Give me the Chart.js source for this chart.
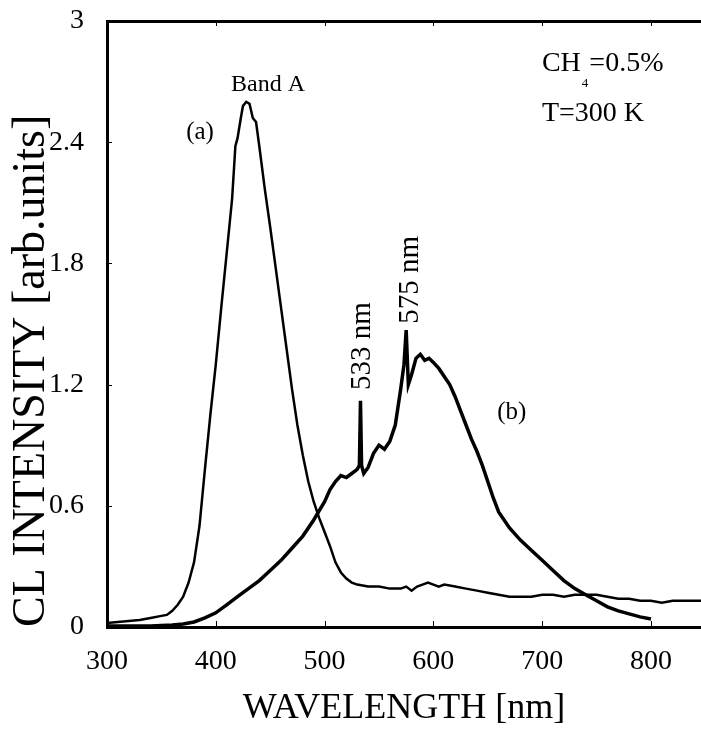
<!DOCTYPE html>
<html><head><meta charset="utf-8">
<script src="https://cdn.jsdelivr.net/npm/chart.js@4/dist/chart.umd.min.js"></script>
<style>html,body{margin:0;padding:0;background:#fff;} canvas{display:block;}</style>
</head><body>
<canvas id="c" width="701" height="734"></canvas>
<script>
// ---- data ----
const wavelengthA = [300,310,320,330,340,350,355,360,365,370,375,380,385,390,395,400,405,410,415,418,420,423,425,428,431,434,437,440,445,450,455,460,465,470,475,480,485,490,495,500,505,510,515,520,525,530,540,550,560,570,575,580,585,590,595,600,605,610,620,630,640,650,660,670,680,690,700,710,720,730,740,750,760,770,780,790,800,810,820,830,846];
const intensityA  = [0.02,0.025,0.03,0.035,0.045,0.055,0.06,0.08,0.11,0.15,0.22,0.32,0.50,0.78,1.05,1.30,1.58,1.85,2.12,2.38,2.42,2.52,2.58,2.60,2.59,2.52,2.50,2.38,2.17,1.98,1.78,1.58,1.38,1.18,1.00,0.85,0.72,0.62,0.54,0.47,0.40,0.32,0.27,0.24,0.22,0.21,0.20,0.20,0.19,0.19,0.20,0.18,0.20,0.21,0.22,0.21,0.20,0.21,0.20,0.19,0.18,0.17,0.16,0.15,0.15,0.15,0.16,0.16,0.15,0.16,0.16,0.16,0.15,0.14,0.14,0.13,0.13,0.12,0.13,0.13,0.13];
const wavelengthB = [300,320,340,360,370,380,390,400,410,420,430,440,450,460,470,480,490,500,505,510,515,520,525,530,532,533,534,536,540,545,550,555,560,565,570,573,575,577,580,584,588,592,596,600,605,610,615,620,625,630,635,640,645,650,655,660,665,670,680,690,700,710,720,730,740,750,760,770,780,790,800];
const intensityB  = [0.005,0.005,0.005,0.01,0.015,0.025,0.045,0.07,0.11,0.15,0.19,0.23,0.28,0.33,0.39,0.45,0.53,0.62,0.68,0.72,0.75,0.74,0.76,0.78,0.80,1.12,0.80,0.76,0.79,0.86,0.90,0.88,0.92,1.00,1.18,1.30,1.47,1.20,1.25,1.33,1.35,1.32,1.33,1.31,1.28,1.24,1.20,1.14,1.07,1.00,0.93,0.87,0.80,0.72,0.64,0.57,0.53,0.49,0.43,0.38,0.33,0.28,0.23,0.19,0.16,0.13,0.10,0.08,0.065,0.05,0.04];
const xTicks = [300,400,500,600,700,800];
const yTicks = [0,0.6,1.2,1.8,2.4,3];
const xRange = [300,846];
const yRange = [0,3];

// ---- text annotations (placed in data coordinates) ----
const notes = [
  {parts:[{t:'Band A'}], x:448, y:2.683, size:24, align:'center'},
  {parts:[{t:'(a)'}], x:385.5, y:2.446, size:25, align:'center'},
  {parts:[{t:'(b)'}], x:672, y:1.064, size:25, align:'center'},
  {parts:[{t:'533 nm'}], x:534.4, y:1.391, size:29, align:'center', rot:-Math.PI/2},
  {parts:[{t:'575 nm'}], x:578.5, y:1.718, size:29, align:'center', rot:-Math.PI/2},
  {parts:[{t:'CH'},{t:'4',sub:true},{t:'=0.5%'}], x:699.8, y:2.787, size:28, align:'left'},
  {parts:[{t:'T=300 K'}], x:699.8, y:2.540, size:28, align:'left'}
];

const FONT = '"Liberation Serif", "DejaVu Serif", serif';

const notePlugin = {
  id:'notes',
  afterDatasetsDraw(chart){
    const {ctx} = chart; const xs = chart.scales.x, ys = chart.scales.y;
    ctx.save(); ctx.fillStyle = '#000'; ctx.textBaseline = 'middle';
    for (const n of notes){
      const px = xs.getPixelForValue(n.x), py = ys.getPixelForValue(n.y);
      ctx.save(); ctx.translate(px,py); if (n.rot) ctx.rotate(n.rot);
      let total = 0;
      for (const p of n.parts){ ctx.font = (p.sub? Math.round(n.size*0.45): n.size)+'px '+FONT; total += ctx.measureText(p.t).width + (p.sub?2:0); }
      let cx = n.align==='center' ? -total/2 : 0;
      ctx.textAlign = 'left';
      for (const p of n.parts){
        ctx.font = (p.sub? Math.round(n.size*0.45): n.size)+'px '+FONT;
        ctx.fillText(p.t, cx + (p.sub?1:0), p.sub ? n.size*0.7 : 0);
        cx += ctx.measureText(p.t).width + (p.sub?2:0);
      }
      ctx.restore();
    }
    // small inward tick marks on the bottom and top axes
    ctx.strokeStyle = '#000'; ctx.lineWidth = 1;
    const area = chart.chartArea;
    for (const t of xs.ticks){
      const px = Math.round(xs.getPixelForValue(t.value)) + 0.5;
      ctx.beginPath(); ctx.moveTo(px, area.bottom); ctx.lineTo(px, area.bottom - 6); ctx.stroke();
      ctx.beginPath(); ctx.moveTo(px, area.top); ctx.lineTo(px, area.top + 5); ctx.stroke();
    }
    for (const t of ys.ticks){
      const py = Math.round(ys.getPixelForValue(t.value)) + 0.5;
      ctx.beginPath(); ctx.moveTo(area.left, py); ctx.lineTo(area.left + 5, py); ctx.stroke();
    }
    ctx.restore();
  }
};

const ptsA = wavelengthA.map((w,i)=>({x:w, y:intensityA[i]}));
const ptsB = wavelengthB.map((w,i)=>({x:w, y:intensityB[i]}));

new Chart(document.getElementById('c'), {
  type:'line',
  data:{datasets:[
    {label:'(a)', data:ptsA, borderColor:'#000', borderWidth:2.5, pointRadius:0, tension:0, fill:false},
    {label:'(b)', data:ptsB, borderColor:'#000', borderWidth:3.5, pointRadius:0, tension:0, fill:false}
  ]},
  options:{
    responsive:false, animation:false, devicePixelRatio:1,
    layout:{padding:0},
    plugins:{legend:{display:false}, tooltip:{enabled:false}},
    scales:{
      x:{type:'linear', position:'bottom', min:xRange[0], max:xRange[1],
        afterBuildTicks:s=>{s.ticks = xTicks.map(v=>({value:v}));},
        afterFit:s=>{s.height = 107; s.paddingLeft = 0; s.paddingRight = 0;},
        grid:{display:false, drawTicks:false},
        border:{display:true, color:'#000', width:3},
        ticks:{color:'#000', font:{family:FONT, size:28}, padding:18, maxRotation:0, autoSkip:false},
        title:{display:true, text:'WAVELENGTH [nm]', color:'#000', font:{family:FONT, size:36}, padding:{top:0,bottom:4}}
      },
      xTop:{type:'linear', position:'top', min:xRange[0], max:xRange[1],
        afterFit:s=>{s.height = 21; s.paddingLeft = 0; s.paddingRight = 0;},
        grid:{display:false, drawTicks:false},
        border:{display:true, color:'#000', width:3},
        ticks:{display:false}
      },
      y:{type:'linear', position:'left', min:yRange[0], max:yRange[1],
        afterBuildTicks:s=>{s.ticks = yTicks.map(v=>({value:v}));},
        afterFit:s=>{s.width = 107; s.paddingTop = 0; s.paddingBottom = 0;},
        grid:{display:false, drawTicks:false},
        border:{display:true, color:'#000', width:3},
        ticks:{color:'#000', font:{family:FONT, size:28}, padding:23,
          callback:v=> (v===0||v===3) ? String(v) : v.toFixed(1)},
        title:{display:true, text:'CL INTENSITY [arb.units]', align:'start', color:'#000', font:{family:FONT, size:46}, padding:{top:4,bottom:0}}
      }
    }
  },
  plugins:[notePlugin]
});
</script>
</body></html>
